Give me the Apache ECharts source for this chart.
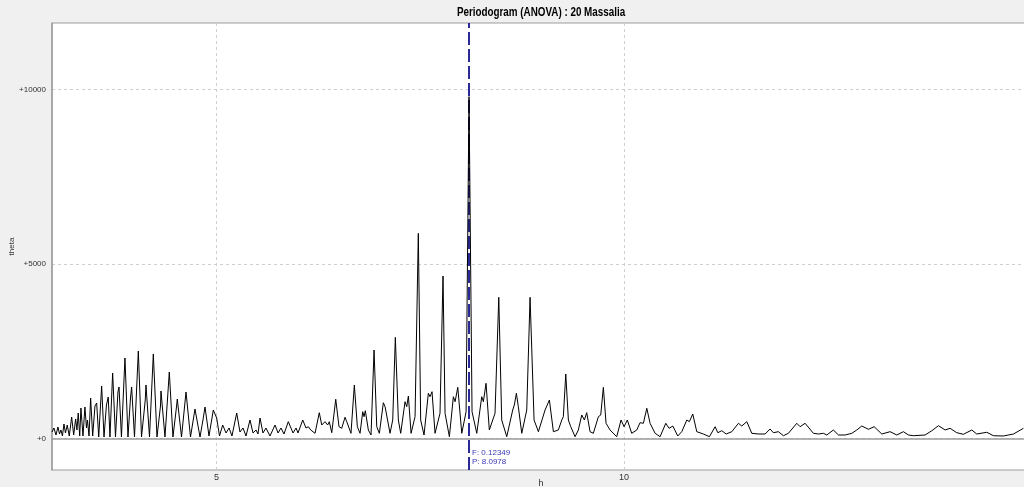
<!DOCTYPE html>
<html>
<head>
<meta charset="utf-8">
<script src="https://cdn.jsdelivr.net/npm/echarts@6/dist/echarts.min.js"></script>
<style>
  html, body { margin: 0; padding: 0; background: #f0f0f0; }
  #chart { width: 1024px; height: 487px; }
</style>
</head>
<body>
<div id="chart"></div>
<script>
// Trial period (hours) and ANOVA theta statistic of the periodogram
const periods = [
  2.982,3.006,3.031,3.055,3.074,3.092,3.110,3.129,3.147,3.169,
  3.194,3.223,3.248,3.272,3.288,3.304,3.322,3.337,3.362,3.386,
  3.405,3.417,3.436,3.456,3.481,3.509,3.530,3.555,3.591,3.620,
  3.650,3.672,3.693,3.726,3.761,3.791,3.804,3.834,3.877,3.914,
  3.945,3.959,3.994,4.041,4.080,4.126,4.135,4.178,4.225,4.270,
  4.313,4.319,4.368,4.421,4.466,4.509,4.519,4.571,4.626,4.681,
  4.736,4.798,4.834,4.859,4.908,4.961,5.002,5.037,5.076,5.117,
  5.154,5.190,5.248,5.288,5.325,5.362,5.411,5.448,5.485,5.509,
  5.534,5.570,5.607,5.656,5.718,5.755,5.791,5.828,5.881,5.939,
  5.976,6.000,6.058,6.098,6.127,6.156,6.176,6.209,6.261,6.291,
  6.331,6.364,6.384,6.414,6.463,6.503,6.536,6.577,6.598,6.617,
  6.650,6.691,6.728,6.761,6.794,6.810,6.826,6.863,6.896,6.933,
  6.966,6.998,7.047,7.068,7.088,7.129,7.162,7.194,7.231,7.260,
  7.313,7.334,7.354,7.387,7.436,7.476,7.505,7.546,7.599,7.620,
  7.644,7.681,7.742,7.779,7.804,7.857,7.906,7.927,7.960,8.009,
  8.062,8.098,8.135,8.193,8.254,8.274,8.307,8.347,8.417,8.463,
  8.499,8.561,8.634,8.654,8.679,8.703,8.745,8.806,8.847,8.896,
  8.949,9.031,9.052,9.084,9.133,9.194,9.236,9.255,9.285,9.317,
  9.346,9.399,9.439,9.481,9.513,9.542,9.583,9.623,9.685,9.714,
  9.746,9.779,9.828,9.910,9.963,10.000,10.040,10.094,10.156,10.196,
  10.237,10.279,10.319,10.381,10.442,10.512,10.552,10.598,10.659,10.708,
  10.770,10.801,10.843,10.892,10.973,11.047,11.117,11.150,11.199,11.252,
  11.322,11.403,11.444,11.506,11.567,11.648,11.730,11.791,11.832,11.893,
  11.955,12.016,12.119,12.160,12.221,12.323,12.384,12.446,12.487,12.568,
  12.630,12.712,12.794,12.855,12.917,12.998,13.068,13.162,13.264,13.346,
  13.427,13.489,13.550,13.693,13.776,13.857,13.939,14.000,14.082,14.163,
  14.266,14.327,14.450,14.531,14.654,14.777,14.899
];
const thetaValues = [
  186,301,100,330,129,244,72,416,158,387,
  72,616,100,559,244,731,72,874,72,903,
  301,530,72,1161,72,932,1018,43,1505,43,
  960,1190,43,1878,43,1333,1477,43,2308,43,
  1161,1477,43,2509,43,1104,1534,43,2423,43,
  932,1362,43,1907,43,903,1132,43,1333,43,
  846,43,530,903,72,817,588,72,387,158,
  301,72,731,186,301,72,530,158,244,129,
  588,158,301,72,387,158,301,129,482,158,
  301,158,530,301,338,244,292,149,740,387,
  482,387,482,166,1124,338,292,608,482,530,
  149,1534,338,149,768,625,797,244,100,2537,
  338,149,1026,912,960,149,530,2901,530,149,
  1055,912,1218,149,625,5883,530,100,1296,1198,
  1342,149,722,4659,722,52,1198,1055,1468,149,
  768,9800,768,149,1198,1055,1583,244,722,4048,
  530,52,817,960,1296,912,149,817,4048,530,
  195,817,768,1104,195,244,530,625,1849,530,
  338,52,244,674,530,740,195,149,625,674,
  1468,436,244,52,530,338,530,149,244,453,
  436,866,436,149,52,436,292,358,72,195,
  530,482,702,195,129,52,338,166,224,129,
  195,436,358,482,149,129,129,272,166,195,
  80,149,436,338,436,149,129,149,100,244,
  100,100,149,244,358,264,338,129,195,100,
  195,100,80,100,224,367,244,292,166,120,
  244,129,178,80,72,129,292
];

const xTicks = [5, 10];
const yTicks = [0, 5000, 10000];
const bestPeriod = 8.0978;     // h
const bestFrequency = 0.12349; // 1/h
const chartTitle = 'Periodogram (ANOVA) : 20 Massalia';

const points = periods.map((p, i) => [p, thetaValues[i]]);

const chart = echarts.init(document.getElementById('chart'), null, { renderer: 'canvas' });

const axisGray = '#9c9c9c';
const gridDash = { color: '#cfcfcf', width: 1, type: [3, 3] };

chart.setOption({
  backgroundColor: '#f0f0f0',
  animation: false,
  grid: {
    left: 52, right: -6, top: 23, bottom: 17,
    outerBoundsMode: 'none',
    containLabel: false,
    show: true, backgroundColor: '#ffffff',
    borderColor: axisGray, borderWidth: 1
  },
  xAxis: {
    type: 'value',
    min: 2.982, max: 14.98,
    name: 'h', nameLocation: 'middle', nameGap: 9, nameMoveOverlap: false,
    nameTextStyle: { fontFamily: 'Liberation Sans', fontSize: 9, color: '#333', verticalAlign: 'top' },
    axisLine: { show: true, lineStyle: { color: axisGray, width: 1.5 } },
    axisTick: { show: false, customValues: xTicks },
    axisLabel: {
      customValues: xTicks, margin: 3,
      fontFamily: 'Liberation Sans', fontSize: 9, color: '#333'
    },
    splitLine: { show: true, lineStyle: gridDash }
  },
  yAxis: {
    type: 'value',
    min: -903, max: 11912,
    name: 'theta', nameLocation: 'middle', nameGap: 36, nameRotate: 90, nameMoveOverlap: false,
    nameTextStyle: { fontFamily: 'Liberation Sans', fontSize: 8, color: '#333' },
    axisLine: { show: true, lineStyle: { color: axisGray, width: 1.5 } },
    axisTick: { show: false, customValues: yTicks },
    axisLabel: {
      customValues: yTicks, margin: 6,
      fontFamily: 'Liberation Sans', fontSize: 8, color: '#333',
      formatter: v => '+' + v
    },
    splitLine: { show: true, lineStyle: gridDash }
  },
  series: [
    {
      // selected period marker, drawn beneath the periodogram curve
      type: 'line',
      data: [],
      silent: true,
      z: 1,
      markLine: {
        silent: true,
        symbol: ['none', 'none'],
        label: { show: false },
        lineStyle: { color: '#2a2a96', width: 2, type: [13, 4] },
        data: [{ xAxis: bestPeriod }],
        z: 1
      }
    },
    {
      type: 'line',
      data: points,
      showSymbol: false,
      symbol: 'none',
      silent: true,
      lineStyle: { color: '#000000', width: 1 },
      z: 3
    }
  ]
});

// Title and the selected-period readout beside the marker line
const markerX = chart.convertToPixel({ xAxisIndex: 0 }, bestPeriod);
chart.setOption({
  graphic: [
    {
      type: 'text', x: 541, y: 13, z: 10, scaleX: 0.82,
      style: {
        text: chartTitle, textAlign: 'center', textVerticalAlign: 'middle',
        font: 'bold 12px "Liberation Sans", sans-serif',
        fill: '#000'
      }
    },
    {
      type: 'text', x: markerX + 3, y: 449, z: 10,
      style: {
        text: 'F: ' + bestFrequency + '\nP: ' + bestPeriod,
        textAlign: 'left', textVerticalAlign: 'top',
        font: '8px "Liberation Sans", sans-serif', lineHeight: 8.5,
        fill: '#3a3ab4'
      }
    }
  ]
});
</script>
</body>
</html>
